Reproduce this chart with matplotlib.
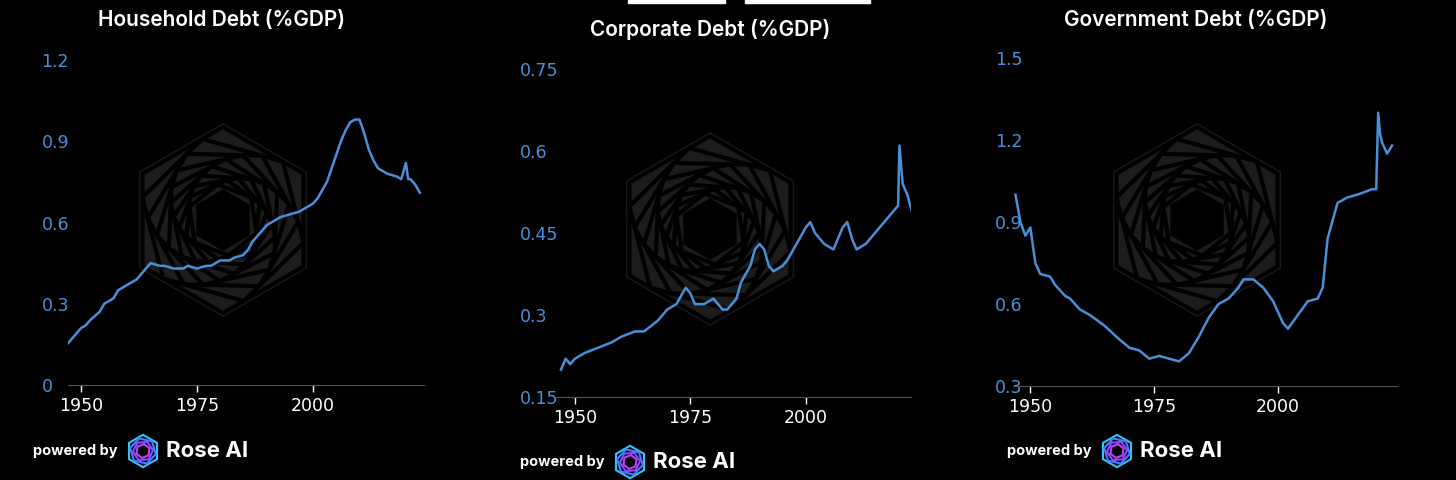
import matplotlib
matplotlib.use("Agg")
import matplotlib.pyplot as plt
import numpy as np
from matplotlib.patches import RegularPolygon

hh_years = [1947,1948,1949,1950,1951,1952,1954,1955,1957,1958,1960,1962,1963,1965,1967,1968,1970,1972,1973,1975,1977,1978,1980,1982,1983,1985,1986,1987,1989,1990,1992,1993,1995,1997,1998,2000,2001,2002,2003,2004,2005,2006,2007,2008,2009,2010,2011,2012,2013,2014,2016,2018,2019,2020,2020.5,2021,2022,2023]
hh_vals  = [0.15,0.17,0.19,0.21,0.22,0.24,0.27,0.30,0.32,0.35,0.37,0.39,0.41,0.45,0.44,0.44,0.43,0.43,0.44,0.43,0.44,0.44,0.46,0.46,0.47,0.48,0.50,0.53,0.57,0.59,0.61,0.62,0.63,0.64,0.65,0.67,0.69,0.72,0.75,0.80,0.85,0.90,0.94,0.97,0.98,0.98,0.93,0.87,0.83,0.80,0.78,0.77,0.76,0.82,0.76,0.76,0.74,0.71]

co_years = [1947,1948,1949,1950,1952,1955,1958,1960,1963,1965,1968,1970,1972,1974,1975,1976,1978,1980,1982,1983,1985,1986,1988,1989,1990,1991,1992,1993,1995,1996,1998,2000,2001,2002,2004,2006,2007,2008,2009,2010,2011,2013,2015,2017,2019,2020,2020.3,2021,2022,2023]
co_vals  = [0.20,0.22,0.21,0.22,0.23,0.24,0.25,0.26,0.27,0.27,0.29,0.31,0.32,0.35,0.34,0.32,0.32,0.33,0.31,0.31,0.33,0.36,0.39,0.42,0.43,0.42,0.39,0.38,0.39,0.40,0.43,0.46,0.47,0.45,0.43,0.42,0.44,0.46,0.47,0.44,0.42,0.43,0.45,0.47,0.49,0.50,0.61,0.54,0.52,0.49]

gv_years = [1947,1948,1949,1950,1951,1952,1954,1955,1957,1958,1960,1962,1965,1968,1970,1972,1974,1976,1978,1980,1982,1984,1986,1988,1990,1992,1993,1995,1997,1999,2001,2002,2004,2006,2008,2009,2010,2012,2014,2016,2019,2019.8,2020.2,2020.6,2021,2022,2023]
gv_vals  = [1.00,0.90,0.85,0.88,0.75,0.71,0.70,0.67,0.63,0.62,0.58,0.56,0.52,0.47,0.44,0.43,0.40,0.41,0.40,0.39,0.42,0.48,0.55,0.60,0.62,0.66,0.69,0.69,0.66,0.61,0.53,0.51,0.56,0.61,0.62,0.66,0.84,0.97,0.99,1.00,1.02,1.02,1.30,1.22,1.19,1.15,1.18]

titles = ["Household Debt (%GDP)", "Corporate Debt (%GDP)", "Government Debt (%GDP)"]
yticks = [[0,0.3,0.6,0.9,1.2],[0.15,0.3,0.45,0.6,0.75],[0.3,0.6,0.9,1.2,1.5]]
yticklabels = [["0","0.3","0.6","0.9","1.2"],["0.15","0.3","0.45","0.6","0.75"],["0.3","0.6","0.9","1.2","1.5"]]
xticks = [1950,1975,2000]

W,H = 1456,480
fig = plt.figure(figsize=(W/100,H/100), dpi=100, facecolor="black")
BLUE = "#4a90d9"

geo = [(68,424,60,385),(555,911,69,397),(1013,1397,58,386)]
xlims = [(1947.2,2023.9),(1945.7,2022.8),(1946.5,2024.0)]
pads = [19,25,13]
titlepos = [(222,20),(710,30),(1196,20)]
footer_y = [451,462,451]
footer_x = [33,520,1007]
data = [(hh_years,hh_vals),(co_years,co_vals),(gv_years,gv_vals)]

for i in range(3):
    l,r,t,b = geo[i]
    cx = 223 + 487*i; cy = 220 + (9 if i==1 else 0)
    axw = fig.add_axes([(cx-100)/W,1-(cy+100)/H,200/W,200/H], zorder=0)
    axw.set_xlim(-1,1); axw.set_ylim(-1,1); axw.axis("off")
    axw.add_patch(RegularPolygon((0,0),6,radius=0.96,orientation=0,color="#1c1c1c"))
    for k in range(10):
        rr = 0.93*(0.9**k)
        axw.add_patch(RegularPolygon((0,0),6,radius=rr,orientation=k*0.25,fill=False,ec="black",lw=3))
    axw.add_patch(RegularPolygon((0,0),6,radius=0.3,color="black"))

    ax = fig.add_axes([l/W, 1-b/H, (r-l)/W, (b-t)/H], zorder=1)
    ax.patch.set_alpha(0)
    x,y = data[i]
    ax.plot(x,y,color=BLUE,lw=1.8)
    ax.set_xlim(*xlims[i])
    ax.set_ylim(yticks[i][0],yticks[i][-1])
    ax.set_yticks(yticks[i]); ax.set_yticklabels(yticklabels[i])
    ax.set_xticks(xticks)
    for s in ["top","right","left"]:
        ax.spines[s].set_visible(False)
    ax.spines["bottom"].set_color("#555555")
    ax.tick_params(axis="y",colors=BLUE,length=0,labelsize=12.5,pad=pads[i])
    ax.tick_params(axis="x",colors="white",labelcolor="white",length=5,labelsize=12.5,width=1)
    for tl in ax.get_yticklabels(): tl.set_horizontalalignment("left")
    tx,ty = titlepos[i]
    fig.text(tx/W,1-ty/H,titles[i],color="white",fontsize=15,ha="center",va="center",fontweight="semibold",family="Inter")
    fx = footer_x[i]; fy = footer_y[i]
    fig.text(fx/W,1-fy/H,"powered by",color="white",fontsize=10.5,ha="left",va="center",fontweight="bold",family="Inter")
    axl = fig.add_axes([(fx+92)/W,1-(fy+18)/H,36/W,36/H])
    axl.set_xlim(-1,1); axl.set_ylim(-1,1); axl.axis("off")
    cols = ["#2ec4ff","#4a7dff","#8a4dff","#c040ff"]
    for k in range(4):
        axl.add_patch(RegularPolygon((0,0),6,radius=0.9-0.17*k,orientation=k*0.3,fill=False,ec=cols[k],lw=1.5))
    fig.text((fx+133)/W,1-fy/H,"Rose AI",color="white",fontsize=16,ha="left",va="center",fontweight="bold",family="Inter")

fig.add_artist(plt.Rectangle((628/W,1-3/H),97/W,3/H,color="white",transform=fig.transFigure))
fig.add_artist(plt.Rectangle((745/W,1-3/H),125/W,3/H,color="white",transform=fig.transFigure))
fig.savefig("out.png",dpi=100,facecolor="black")
